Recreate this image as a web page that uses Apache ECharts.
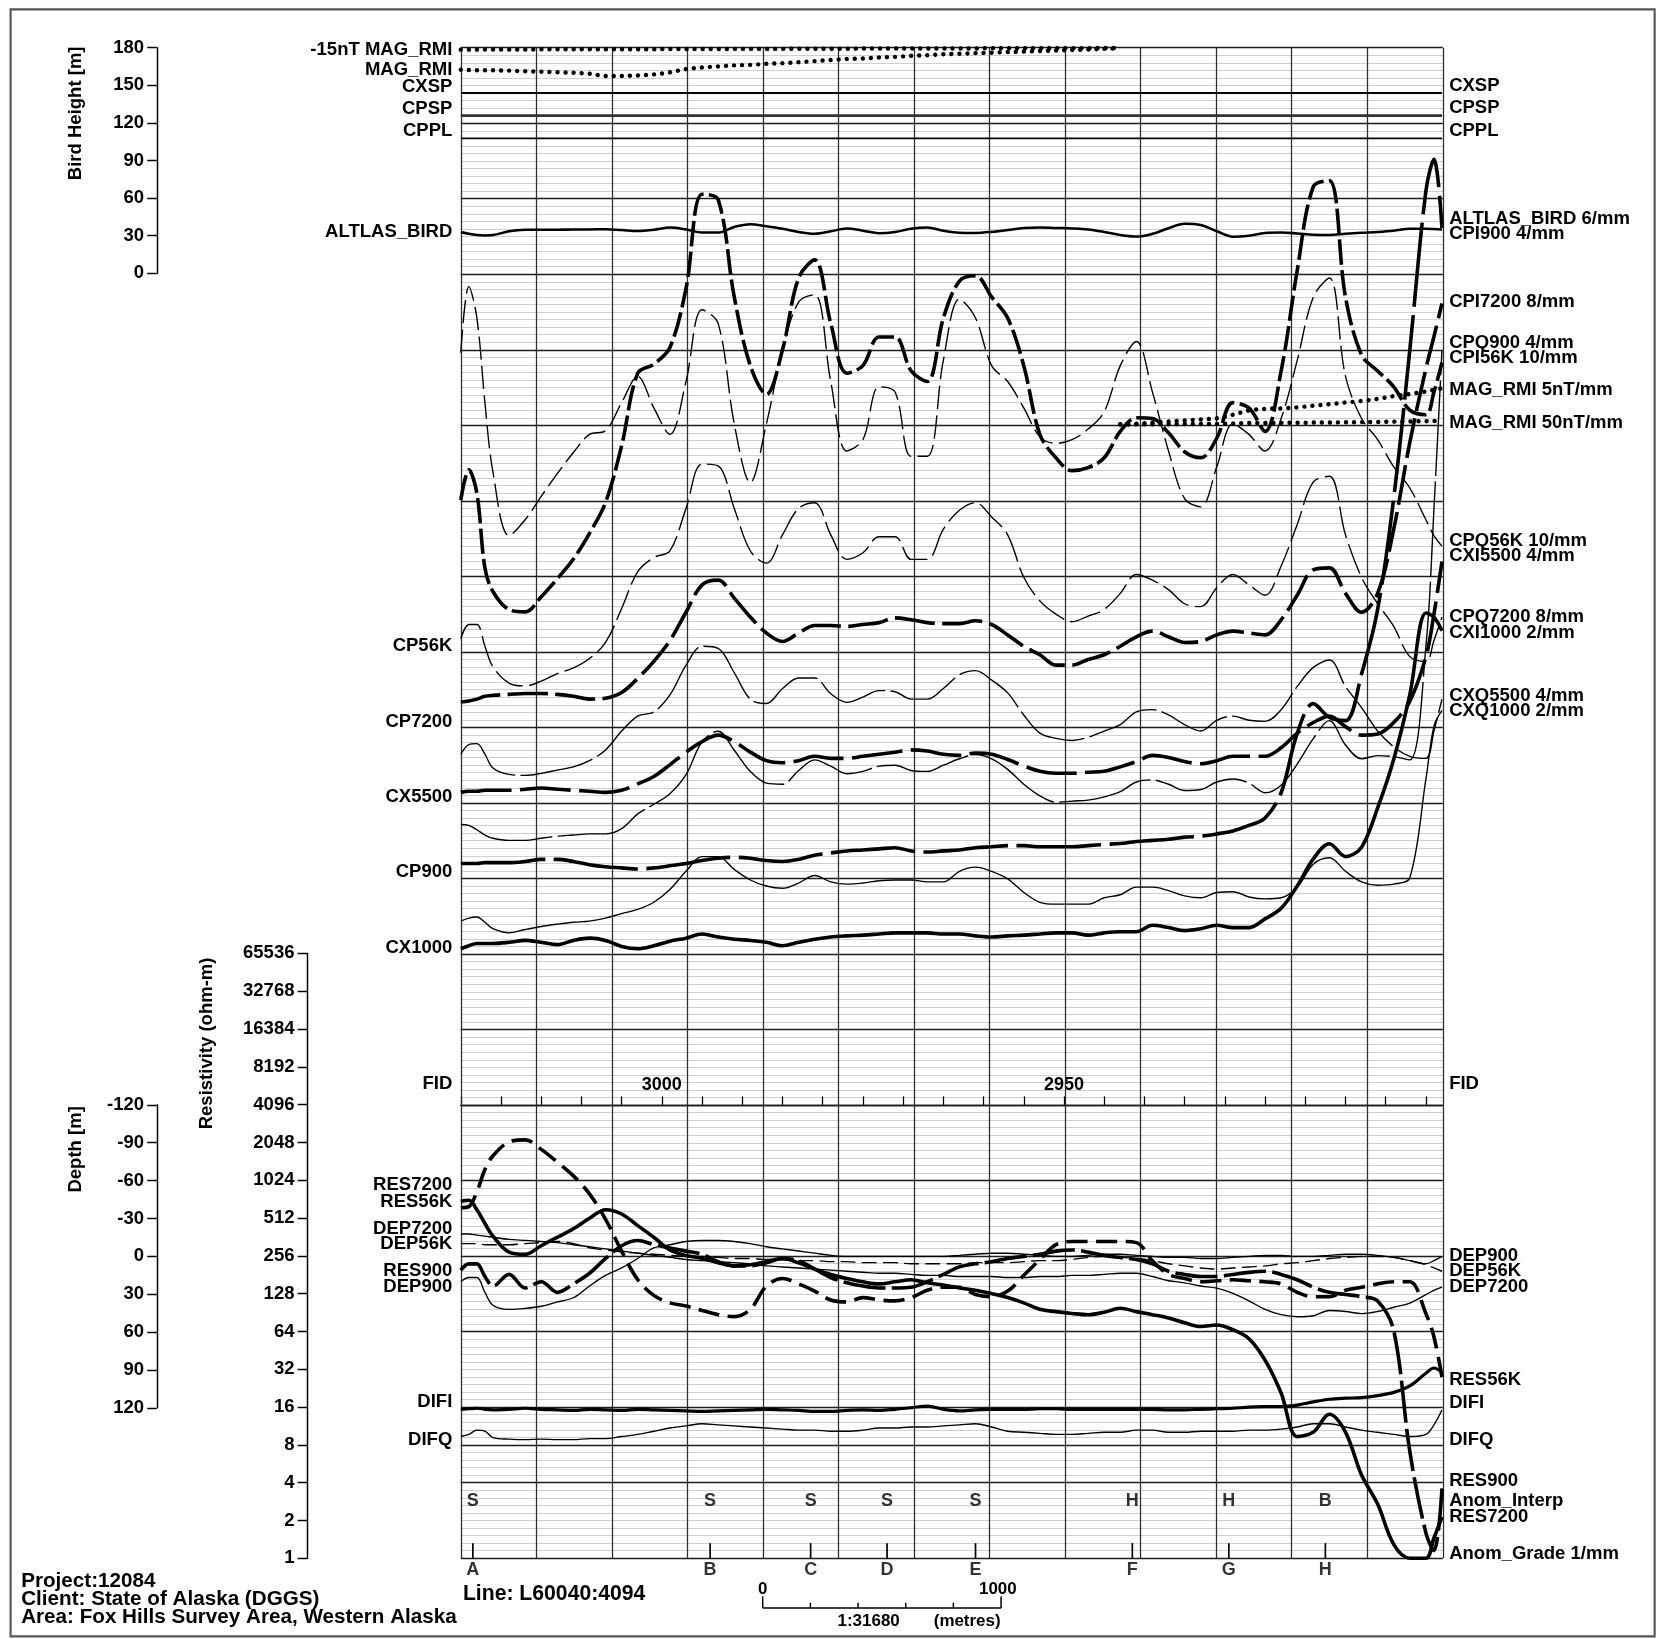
<!DOCTYPE html>
<html>
<head>
<meta charset="utf-8">
<title>Line L60040:4094 profile</title>
<script src="https://cdn.jsdelivr.net/npm/echarts@6.0.0/dist/echarts.min.js"></script>
<style>
html,body{margin:0;padding:0;background:#fff;}
#chart{width:1661px;height:1639px;}
</style>
</head>
<body>
<div id="chart"></div>
<script>
// ================= DATA =================
// Fiducials of the samples (x axis)
const FIDS = [3025,3024,3023,3022,3021,3019,3017,3015,3013,3011,3009,3007,3005,3003,3001,2999,2997,2995,2993,2991,2989,2987,2985,2983,2981,2979,2977,2975,2973,2971,2969,2967,2965,2963,2961,2959,2957,2955,2953,2951,2949,2947,2945,2943,2941,2939,2937,2935,2933,2931,2929,2927,2925,2923,2921,2919,2917,2915,2913,2911,2909,2907,2905,2904,2903];

// Bird height (m)
const ALTLAS_BIRD = [33.0,31.5,30.5,30.2,30.5,33.5,34.7,34.8,34.8,34.9,35.0,35.2,34.5,33.8,34.8,36.5,35.0,32.5,32.5,37.0,39.2,37.5,35.5,33.0,31.5,33.5,35.7,34.0,32.0,33.0,35.5,36.5,34.0,32.4,32.2,33.0,34.5,36.2,36.6,36.2,35.8,35.0,33.0,30.5,29.3,31.5,36.0,39.5,38.5,33.5,29.2,30.0,32.2,32.5,31.8,30.8,30.6,31.5,32.3,33.0,34.0,35.5,35.6,35.3,35.0];

// Magnetics (nT, relative)
const MAG_RMI_TOP = [134.9,134.7,134.6,134.6,134.5,134.3,133.9,133.6,133.2,132.9,132.2,130.8,130.8,131.1,131.8,133.2,135.3,136.4,137.1,137.8,138.1,138.8,139.2,139.9,140.6,141.3,142.0,142.3,143.0,143.4,144.1,144.5,145.2,145.5,145.9,146.2,146.6,146.9,147.3,147.6,148.0,148.3,148.7,149.0,
  null,null,null,null,null,null,null,null,null,null,null,null,null,null,null,null,null,null,null,null,null];
const MAG_RMI_M15 = [148.2,148.2,148.2,148.3,148.3,148.3,148.3,148.4,148.4,148.4,148.4,148.5,148.5,148.5,148.5,148.6,148.6,148.6,148.6,148.7,148.7,148.7,148.7,148.8,148.8,148.8,148.8,148.9,148.9,148.9,148.9,149.0,149.0,149.0,149.0,149.1,149.1,149.1,149.1,149.2,149.2,149.2,149.3,149.3,
  null,null,null,null,null,null,null,null,null,null,null,null,null,null,null,null,null,null,null,null,null];
const MAG_RMI = [null,null,null,null,null,null,null,null,null,null,
  null,null,null,null,null,null,null,null,null,null,
  null,null,null,null,null,null,null,null,null,null,
  null,null,null,null,null,null,null,null,null,null,
  null,null,null,
  0.7,1.1,1.8,2.5,3.2,3.9,4.6,7.0,9.8,10.9,11.2,11.9,13.0,14.0,15.1,16.1,17.5,19.3,20.7,22.4,23.5,24.5];

// Spheric / powerline monitors
const CXSP = [0,0,0,0,0,0,0,0,0,0,0,0,0,0,0,0,0,0,0,0,0,0,0,0,0,0,0,0,0,0,0,0,0,0,0,0,0,0,0,0,0,0,0,0,0,0,0,0,0,0,0,0,0,0,0,0,0,0,0,0,0,0,0,0,0];
const CPSP = [0,0,0,0,0,0,0,0,0,0,0,0,0,0,0,0,0,0,0,0,0,0,0,0,0,0,0,0,0,0,0,0,0,0,0,0,0,0,0,0,0,0,0,0,0,0,0,0,0,0,0,0,0,0,0,0,0,0,0,0,0,0,0,0,0];
const CPPL = [0,0,0,0,0,0,0,0,0,0,0,0,0,0,0,0,0,0,0,0,0,0,0,0,0,0,0,0,0,0,0,0,0,0,0,0,0,0,0,0,0,0,0,0,0,0,0,0,0,0,0,0,0,0,0,0,0,0,0,0,0,0,0,0,0];

// EM channels (ppm)
const CPI56K = [201,241,210,111,80,56,53,73,97,123,157,198,273,369,381,403,481,606,599,470,379,341,400,495,519,435,369,379,417,417,372,358,442,491,498,470,442,379,288,257,240,244,257,292,310,309,290,265,257,283,330,323,292,372,505,616,624,470,393,372,351,320,314,344,383];
const CPQ56K = [396,484,442,330,238,154,175,206,236,264,288,293,330,365,323,288,358,453,435,302,224,302,400,463,473,358,266,281,351,344,259,259,386,467,442,379,358,323,285,276,281,295,318,379,411,344,266,203,192,245,302,288,266,309,386,470,495,365,309,281,245,217,175,154,140];
const CPI7200 = [27,28,30,33,34,35,36,36,35,33,30,31,37,52,70,92,122,151,156,137,117,100,91,100,108,108,107,109,111,116,114,111,110,110,113,109,98,86,77,66,66,72,77,86,96,102,96,90,91,98,102,100,98,114,140,167,169,142,122,142,210,302,380,414,449];
const CPQ7200 = [94,109,109,86,64,47,44,49,57,63,73,90,126,165,180,187,232,279,277,232,187,174,204,232,238,204,178,185,202,202,178,178,210,230,238,223,204,159,134,120,112,118,125,142,162,156,146,131,128,148,162,151,140,171,215,260,266,204,159,131,107,75,70,92,117];
const CXI5500 = [5.6,6.2,6.2,6.7,6.7,6.7,7.3,7.9,7.3,6.7,6.2,5.6,6.7,10.1,14.0,20.2,26.9,32.5,35.9,32.5,26.9,22.4,21.3,22.4,24.7,23.6,23.6,24.7,25.8,26.9,28.1,27.5,25.8,25.2,26.4,25.8,23.0,19.6,16.8,15.7,15.7,16.3,16.8,19.1,21.9,25.2,24.1,21.9,20.8,22.4,24.7,24.7,24.7,29.2,37.0,42.6,46.0,40.4,35.9,36.5,42.6,53.9,77.4,99.9,127.9];
const CXQ5500 = [25.8,30.9,31.4,25.8,18.5,15.1,14.6,15.7,17.4,19.1,22.4,28.1,38.1,46.0,48.2,57.2,72.9,83.0,81.9,69.0,55.0,52.7,60.6,66.2,66.2,57.8,53.3,56.1,59.5,58.9,55.0,55.0,60.6,67.9,70.1,65.1,58.3,46.6,37.0,34.2,33.1,34.8,38.1,41.5,48.2,49.4,46.6,41.5,38.1,43.8,46.0,43.8,43.2,49.4,61.7,71.8,75.7,61.7,50.5,38.1,29.7,24.7,23.6,38.1,55.0];
const CPI900 = [7.9,7.9,7.9,8.4,8.4,8.4,9.0,10.1,10.1,9.0,7.3,6.2,5.6,5.0,5.6,6.7,7.9,9.5,10.7,11.2,10.7,9.5,9.0,10.1,12.3,13.5,14.6,15.1,15.7,16.3,14.6,14.0,14.6,15.1,16.3,16.8,17.4,17.4,16.8,16.8,16.8,17.4,18.0,18.5,19.6,20.2,20.8,21.9,22.4,23.6,25.2,28.1,32.0,45.4,76.9,92.6,85.3,83.6,108.3,142.5,201.4,279.9,364.1,380.9,344.5];
const CPQ900 = [28.6,28.1,25.8,23.0,21.3,20.2,20.2,21.3,22.4,23.0,23.6,23.6,26.4,34.2,39.3,44.9,55.0,72.4,78.0,67.9,56.7,50.5,49.9,57.2,62.8,59.5,55.5,56.7,59.5,60.0,57.2,56.7,60.0,63.4,65.6,63.4,57.8,49.9,43.8,40.4,41.0,41.5,43.2,46.0,51.1,52.2,49.9,46.6,47.1,51.1,52.7,50.5,45.4,49.4,60.6,74.1,83.6,70.7,63.4,65.1,64.5,62.8,122.9,195.8,279.9];
const CXI1000 = [1.4,2.2,2.8,2.8,2.8,3.1,3.6,3.1,2.5,3.6,4.2,3.6,2.0,1.4,2.2,3.4,4.2,5.3,4.5,3.9,3.6,3.1,2.2,3.1,3.9,4.5,4.8,5.0,5.3,5.6,5.6,5.6,5.3,5.3,4.8,4.5,4.8,5.0,5.3,5.6,5.6,5.0,5.6,5.9,5.9,7.6,7.0,6.2,6.7,7.6,7.0,7.0,9.3,12.1,18.0,25.2,29.2,25.8,28.3,38.7,51.6,68.7,90.3,89.2,85.6];
const CXQ1000 = [8.7,9.5,9.8,8.4,6.7,5.6,6.5,7.3,7.9,8.4,8.7,9.5,10.7,11.8,13.7,17.1,21.9,25.8,25.8,22.4,19.6,18.0,17.4,18.8,20.8,19.1,18.5,18.8,19.4,19.6,19.6,19.1,19.1,21.9,23.0,21.9,19.9,16.3,13.7,13.2,13.2,13.2,14.9,15.7,17.7,17.7,16.8,15.4,14.9,16.3,16.5,15.1,14.6,14.9,17.7,23.8,25.5,21.9,19.1,18.2,18.5,20.2,46.3,60.3,64.5];

// Apparent resistivity (ohm-m) and depth (m)
const RES56K = [619,631,828,1246,1604,2064,2147,1802,1427,1109,797,500,279,165,124,108,102,94,87,84,96,147,169,153,134,114,110,119,114,112,119,136,144,144,126,121,134,179,239,314,333,333,333,333,326,234,182,169,159,162,165,162,159,153,131,121,121,136,144,153,159,159,89,58,27.7];
const RES7200 = [696,709,596,463,367,274,263,308,360,420,510,596,551,445,360,285,258,244,225,213,217,230,244,225,201,182,169,159,153,159,165,156,150,142,136,128,119,108,96,92,89,87,91,98,92,87,82,75,70,72,66,56,37.8,20.7,9.3,10.1,14.0,10.1,4.6,2.7,1.29,1,1,1.45,2.13];
const RES900 = [197,221,221,175,147,182,142,159,131,153,186,244,308,339,314,296,279,263,230,213,213,225,244,234,201,172,156,147,142,142,144,159,182,209,221,230,244,253,263,279,285,274,258,248,239,221,193,182,175,175,182,189,193,182,165,144,131,126,121,112,65,7.1,1.59,1.15,3.6];
const DEP900 = [20.2,16.8,16.8,28.6,38.7,42.0,41.2,39.5,36.1,32.8,23.5,15.1,9.2,1.7,-6.7,-9.2,-11.8,-12.6,-12.6,-11.8,-10.1,-7.6,-5.9,-4.2,-2.5,-0.8,0,0,0,0,0,0,0,-0.8,-1.7,-2.5,-2.5,-1.7,-0.8,0,0,-0.8,-1.7,-1.7,-0.8,0,0.8,0.8,1.7,1.7,0.8,0,-0.8,-0.8,0,0,-0.8,-1.7,-1.7,-0.8,0.8,3.4,5.9,3.4,0];
const DEP7200 = [-17.7,-17.7,-16.8,-16.0,-15.1,-13.4,-12.6,-11.8,-10.9,-9.2,-7.6,-5.9,-4.2,-2.5,-0.8,0.8,2.5,3.4,4.2,5.0,5.9,7.6,8.4,9.2,10.1,10.9,11.8,12.6,13.4,13.4,14.3,15.1,15.1,16.0,16.0,16.0,16.8,16.8,16.0,16.0,15.1,15.1,14.3,13.4,13.4,16.0,19.3,21.0,23.5,25.2,29.4,35.3,42.0,46.2,47.9,47.1,42.9,43.7,45.4,43.7,40.3,37.0,30.3,26.9,24.4];
const DEP56K = [-10.1,-10.1,-10.1,-9.2,-9.2,-9.2,-10.1,-10.9,-11.8,-10.1,-6.7,-5.0,-3.4,-2.5,-1.7,-0.8,0,0,0.8,1.7,1.7,2.5,2.5,3.4,3.4,4.2,4.2,5.0,5.0,5.0,5.9,5.9,5.9,5.9,5.0,5.0,5.0,4.2,3.4,3.4,2.5,0.8,0,0.8,1.7,3.4,5.9,7.6,9.2,10.1,9.2,8.4,7.6,5.9,5.0,3.4,1.7,0.8,0,0,0.8,3.4,6.7,9.2,11.8];

// Difference (monitor) channels (ppm)
const DIFI = [-2.8,-2.1,-1.4,-2.8,-3.5,-2.8,-1.4,-2.8,-3.5,-4.2,-2.8,-3.5,-4.2,-2.8,-3.5,-4.2,-4.9,-5.6,-4.9,-4.2,-3.5,-2.8,-3.5,-4.2,-5.6,-5.6,-4.2,-3.5,-4.2,-2.8,-0.7,1.4,-2.8,-4.9,-3.5,-2.8,-2.8,-2.8,-2.1,-2.1,-2.8,-2.8,-2.8,-2.8,-2.8,-2.8,-3.5,-3.5,-2.8,-2.1,-1.4,0,0.7,0.7,2.8,7.0,10.5,11.9,12.6,15.4,19.6,28.1,44.9,51.9,46.3];
const DIFQ = [11.2,14.0,19.6,18.2,9.8,7.7,7.0,7.7,7.0,7.0,8.4,8.4,11.2,14.0,18.2,22.4,25.2,28.1,26.6,25.2,23.8,22.4,21.0,19.6,19.6,18.2,18.2,19.6,22.4,22.4,23.8,23.8,25.2,26.6,28.1,23.8,18.2,16.8,15.4,14.0,14.0,15.4,16.8,16.8,19.6,19.6,16.8,16.8,18.2,18.2,18.2,19.6,19.6,21.0,23.8,28.1,28.1,23.8,19.6,16.8,14.0,11.2,14.0,26.6,46.3];

// Anomalies
const ANOM_ID = ['A','B','C','D','E','F','G','H'];
const ANOM_FID = [3023.5,2994,2981.5,2972,2961,2941.5,2929.5,2917.5];
const ANOM_INTERP = ['S','S','S','S','S','H','H','B'];
const ANOM_GRADE = [2,2,2,2,2,2,2,2];

// Tick labels
const FID_TICKS = [3025,3020,3015,3010,3005,3000,2995,2990,2985,2980,2975,2970,2965,2960,2955,2950,2945,2940,2935,2930,2925,2920,2915,2910,2905];
const FID_LABELS = [3000,2950];

// ================= LAYOUT =================
const S = 1661 / 1568;              // reference-layout units -> page pixels
const P = v => v * S;
const FONT = '"Liberation Sans", Arial, Helvetica, sans-serif';
const X0 = 435, X1 = 1362, YT = 45, YB = 1471, W = X1 - X0;
const FMIN = 2902.9, FMAX = 3025;
const DIVISIONS = [0,1,2,3,4,5,6,7,8,9,10,11,12,13];
const DARK_MM = [0,10,15,20,30,40,50,60,70,80,90,100,110,120,130,140,150,160,170,180,190,200];

const grid = [
  {left:P(X0), top:P(YT),   width:P(W), height:P(YB-YT)},  // 0: full mm-grid
  {left:P(X0), top:P(45),   width:P(W), height:P(213)},    // 1: bird height
  {left:P(X0), top:P(1043), width:P(W), height:P(286)},    // 2: depth
  {left:P(X0), top:P(900),  width:P(W), height:P(571)},    // 3: resistivity
  {left:P(X0), top:P(972),  width:P(W), height:P(71)}      // 4: FID row
].map(g => Object.assign(g, {containLabel:false, outerBoundsMode:'none'}));

const hiddenX = g => ({gridIndex:g, type:'value', min:FMIN, max:FMAX, inverse:true, show:false});
const xAxis = [
  hiddenX(0), hiddenX(1), hiddenX(2), hiddenX(3),
  {gridIndex:4, type:'value', min:FMIN, max:FMAX, inverse:true, position:'bottom',
    axisLine:{show:true, onZero:false, lineStyle:{color:'#000', width:P(1.3)}},
    axisTick:{show:true, inside:true, length:P(8), customValues:FID_TICKS, lineStyle:{color:'#000', width:P(1.2)}},
    axisLabel:{show:true, inside:true, margin:P(10), customValues:FID_LABELS, color:'#000', fontFamily:FONT, fontWeight:'bold', fontSize:P(17), formatter:v=>String(v)},
    splitLine:{show:false}},
  {gridIndex:0, type:'value', min:0, max:13, show:false}
];

const axisText = {color:'#000', fontFamily:FONT, fontWeight:'bold', fontSize:P(17.5)};
const visAxis = (extra) => Object.assign({
  type:'value', position:'left',
  axisLine:{show:true, onZero:false, lineStyle:{color:'#000', width:P(1.4)}},
  axisTick:{show:true, length:P(9), lineStyle:{color:'#000', width:P(1.4)}},
  axisLabel:Object.assign({margin:P(12), showMinLabel:true, showMaxLabel:true, interval:0, hideOverlap:false,
    formatter:v=>String(Math.round(v))}, axisText),
  splitLine:{show:false}, splitArea:{show:false}
}, extra);

const yAxis = [
  {gridIndex:0, type:'value', min:0, max:200, interval:1, position:'left',
    axisLine:{show:false}, axisTick:{show:false}, axisLabel:{show:false},
    splitLine:{show:true, lineStyle:{color:'#cfcfcf', width:P(1.1)}}},
  visAxis({gridIndex:1, min:0, max:180, interval:30, offset:P(X0-148)}),
  visAxis({gridIndex:2, min:-120, max:120, interval:30, inverse:true, offset:P(X0-148)}),
  visAxis({gridIndex:3, type:'log', logBase:2, min:1, max:65536, interval:1, offset:P(X0-290)}),
  {gridIndex:4, type:'value', min:0, max:1, show:false}
];
// hidden value axis on the mm grid: baseline (mm from bottom) and units per mm
function mmAxis(baseMm, perMm) {
  yAxis.push({gridIndex:0, type:'value', position:'left', min:(0-baseMm)*perMm, max:(200-baseMm)*perMm, show:false});
  return yAxis.length - 1;
}

const series = [];
// grid lines (divisions and 10 mm lines)
series.push({type:'line', xAxisIndex:5, yAxisIndex:0, data:[[0,-50]], showSymbol:false, silent:true, z:1,
  lineStyle:{opacity:0},
  markLine:{silent:true, symbol:['none','none'], animation:false, label:{show:false},
    data:[].concat(
      DIVISIONS.map(d => ({xAxis:d, lineStyle:{color:'#2e2e2e', width:P(1.2), type:'solid'}})),
      DARK_MM.map(m => ({yAxis:m, lineStyle:{color:'#1e1e1e', width:P(1.2), type:'solid'}}))
    )}});

function addTrace(data, yIdx, width, dash, opt) {
  opt = opt || {};
  const pts = [];
  for (let i = 0; i < FIDS.length; i++) if (data[i] != null) pts.push([FIDS[i], data[i]]);
  series.push({
    type:'line', xAxisIndex: opt.x != null ? opt.x : 0, yAxisIndex: yIdx, data: pts,
    showSymbol:false, symbol:'none', smooth: opt.smooth != null ? opt.smooth : 0.35, clip:false, silent:true, z:5,
    lineStyle:{color: opt.color || '#000', width:P(width), type: dash ? dash.map(P) : 'solid', cap: opt.cap || 'butt', join:'round'}
  });
}

// top panel
addTrace(CXSP, mmAxis(194, 1), 2.0, null, {smooth:0});
addTrace(CPSP, mmAxis(191, 1), 2.6, null, {smooth:0, color:'#333'});
addTrace(CPPL, mmAxis(188, 1), 1.6, null, {smooth:0});
const magTop = mmAxis(170.1, 5);
addTrace(MAG_RMI_M15, magTop, 4.2, [0.01, 7.6], {cap:'round'});
addTrace(MAG_RMI_TOP, magTop, 4.2, [0.01, 7.6], {cap:'round'});
addTrace(ALTLAS_BIRD, 1, 2.4, null, {x:1});

// EM panel: [data, baseline mm, units/mm, width, dash]
const EM = [
  [CXQ1000, 80, 2, 1.3, null],
  [CPQ900, 90, 4, 1.3, [90,5]],
  [CXQ5500, 100, 4, 1.3, [70,5]],
  [CPQ7200, 110, 8, 1.3, [30,6]],
  [CPQ56K, 120, 10, 1.3, [22,6]],
  [CXI1000, 80, 2, 3.4, null],
  [CPI900, 90, 4, 3.4, [80,8]],
  [CXI5500, 100, 4, 3.4, [48,8]],
  [CPI7200, 110, 8, 3.4, [38,7]],
  [CPI56K, 120, 10, 3.4, [24,5]]
];
EM.forEach(t => addTrace(t[0], mmAxis(t[1], t[2]), t[3], t[4]));
addTrace(MAG_RMI, mmAxis(150, 5), 4.2, [0.01, 7.6], {cap:'round'});
addTrace(MAG_RMI, mmAxis(150.1, 50), 4.2, [0.01, 7.6], {cap:'round'});

// resistivity / depth panel
addTrace(DEP900, 2, 1.3, null, {x:2});
addTrace(DEP7200, 2, 1.3, null, {x:2});
addTrace(DEP56K, 2, 1.3, [14,6], {x:2});
addTrace(RES900, 3, 3.4, [40,6], {x:3});
addTrace(RES56K, 3, 3.4, [20,8], {x:3});
addTrace(RES7200, 3, 3.4, null, {x:3});
addTrace(DIFI, mmAxis(20, 10), 3.0, null);
addTrace(DIFQ, mmAxis(15, 10), 1.3, null);

// anomalies
const gradeAxis = mmAxis(0, 1);
series.push({type:'bar', xAxisIndex:0, yAxisIndex:gradeAxis, barWidth:P(1.6), silent:true, z:5,
  itemStyle:{color:'#000'},
  data: ANOM_FID.map((f,i) => [f, ANOM_GRADE[i]])});
const letterLabel = {show:true, formatter:'{b}', position:'inside', color:'#000', fontFamily:FONT, fontWeight:'bold', fontSize:P(17)};
series.push({type:'scatter', xAxisIndex:0, yAxisIndex:0, symbolSize:1, clip:false, silent:true, z:6,
  itemStyle:{color:'rgba(0,0,0,0)'}, label:letterLabel,
  data: ANOM_FID.map((f,i) => ({name:ANOM_INTERP[i], value:[f, 7.6]}))});
series.push({type:'scatter', xAxisIndex:0, yAxisIndex:0, symbolSize:1, clip:false, silent:true, z:6,
  itemStyle:{color:'rgba(0,0,0,0)'}, label:letterLabel,
  data: ANOM_FID.map((f,i) => ({name:ANOM_ID[i], value:[f, -1.55]}))});

// ================= TEXT / DECOR =================
function txt(x, y, text, align, size, rot) {
  return {type:'text', x:P(x), y:P(y), rotation: rot || 0, silent:true, z:100,
    style:{text, fill:'#000', font:`bold ${P(size)}px ${FONT}`,
      align, verticalAlign:'middle', textAlign:align, textVerticalAlign:'middle'}};
}
const LEFT_LABELS = [
  ['-15nT MAG_RMI',47],['MAG_RMI',66],['CXSP',82],['CPSP',103],['CPPL',124],['ALTLAS_BIRD',219],
  ['CP56K',610],['CP7200',681],['CX5500',752],['CP900',823],['CX1000',895],['FID',1023],
  ['RES7200',1119],['RES56K',1135],['DEP7200',1160],['DEP56K',1174],['RES900',1200],['DEP900',1215],
  ['DIFI',1323],['DIFQ',1359]
];
const RIGHT_LABELS = [
  ['CXSP',81],['CPSP',102],['CPPL',124],['ALTLAS_BIRD 6/mm',207],['CPI900 4/mm',221],
  ['CPI7200 8/mm',285],['CPQ900 4/mm',324],['CPI56K 10/mm',338],['MAG_RMI 5nT/mm',368],['MAG_RMI 50nT/mm',399],
  ['CPQ56K 10/mm',511],['CXI5500 4/mm',525],['CPQ7200 8/mm',582],['CXI1000 2/mm',597],
  ['CXQ5500 4/mm',657],['CXQ1000 2/mm',671],['FID',1023],['DEP900',1186],['DEP56K',1200],['DEP7200',1215],
  ['RES56K',1303],['DIFI',1324],['DIFQ',1359],['RES900',1398],['Anom_Interp',1417],['RES7200',1432],['Anom_Grade 1/mm',1467]
];
const graphic = [];
graphic.push({type:'rect', silent:true, z:0, shape:{x:P(10), y:P(8.8), width:P(1552), height:P(1536)},
  style:{fill:'none', stroke:'#555', lineWidth:P(2)}});
LEFT_LABELS.forEach(l => graphic.push(txt(427, l[1], l[0], 'right', 17.5)));
RIGHT_LABELS.forEach(l => graphic.push(txt(1368, l[1], l[0], 'left', 17.5)));
graphic.push(txt(72, 107, 'Bird Height [m]', 'center', 17.5, Math.PI/2));
graphic.push(txt(195, 985, 'Resistivity (ohm-m)', 'center', 17.5, Math.PI/2));
graphic.push(txt(72, 1085, 'Depth [m]', 'center', 17.5, Math.PI/2));
graphic.push(txt(20, 1493, 'Project:12084', 'left', 19.5));
graphic.push(txt(20, 1510, 'Client: State of Alaska (DGGS)', 'left', 19.5));
graphic.push(txt(20, 1527, 'Area: Fox Hills Survey Area, Western Alaska', 'left', 19.5));
graphic.push(txt(437, 1505, 'Line: L60040:4094', 'left', 20));
// scale bar
const sbLine = (x1,y1,x2,y2) => ({type:'line', silent:true, z:100, shape:{x1:P(x1),y1:P(y1),x2:P(x2),y2:P(y2)}, style:{stroke:'#000', lineWidth:P(1.4)}});
graphic.push(sbLine(720,1518,945,1518));
[[720,1507],[765,1513],[810,1513],[855,1513],[900,1513],[945,1507]].forEach(t => graphic.push(sbLine(t[0],t[1],t[0],1518)));
graphic.push(txt(720, 1500, '0', 'center', 16));
graphic.push(txt(942, 1500, '1000', 'center', 16));
graphic.push(txt(820, 1531, '1:31680', 'center', 16));
graphic.push(txt(913, 1531, '(metres)', 'center', 16));

const chart = echarts.init(document.getElementById('chart'), null, {renderer:'canvas'});
chart.setOption({
  animation:false,
  backgroundColor:'#fff',
  textStyle:{fontFamily:FONT},
  grid, xAxis, yAxis, series, graphic
});
</script>
</body>
</html>
